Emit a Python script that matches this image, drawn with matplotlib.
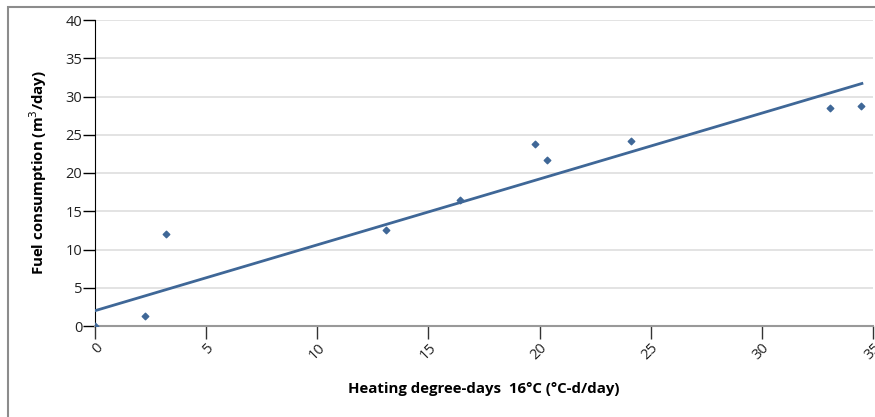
import matplotlib
matplotlib.use("Agg")
import matplotlib.pyplot as plt
from matplotlib.patches import Rectangle

# Данные
hdd = [0.0, 2.25, 3.2, 13.1, 16.4, 19.8, 20.35, 24.1, 33.05, 34.45]
fuel = [0.0, 1.3, 12.0, 12.5, 16.5, 23.8, 21.7, 24.2, 28.5, 28.8]

# Линия тренда (концы)
trend_x = [0.0, 34.5]
trend_y = [2.0, 31.7]

x_ticks = [0, 5, 10, 15, 20, 25, 30, 35]
y_ticks = [0, 5, 10, 15, 20, 25, 30, 35, 40]

plt.rcParams['font.family'] = ['Open Sans', 'DejaVu Sans']

blue = '#3f6797'

fig = plt.figure(figsize=(8.75, 4.17), dpi=100)
# серая рамка вокруг графика
fig.patches.append(Rectangle((8 / 875, -0.1), 1.2, (417 - 7) / 417 + 0.1,
                             transform=fig.transFigure, fill=False,
                             edgecolor='#8c8c8c', linewidth=1.5))

ax = fig.add_axes([95 / 875, 91 / 417, 778 / 875, 306 / 417])
ax.set_xlim(0, 35)
ax.set_ylim(0, 40)

ax.grid(axis='y', color='#dedede', linewidth=1.2)
ax.set_axisbelow(True)

ax.plot(trend_x, trend_y, color=blue, linewidth=2, zorder=3)
ax.scatter(hdd, fuel, marker='D', s=11, color=blue, zorder=4, clip_on=True)

for s in ['top', 'right']:
    ax.spines[s].set_visible(False)
ax.spines['left'].set_color('black')
ax.spines['bottom'].set_color('#999999')
ax.spines['bottom'].set_linewidth(1.5)

ax.set_xticks(x_ticks)
ax.set_yticks(y_ticks)
ax.tick_params(axis='y', length=9, width=1, color='black', labelsize=10.5, pad=0, labelcolor='#222222')
ax.tick_params(axis='x', length=9, width=1, color='#333333', labelsize=10.5, pad=1, labelcolor='#222222')
for lab in ax.get_xticklabels():
    lab.set_rotation(45)
    lab.set_ha('right')
    lab.set_va('top')
    lab.set_rotation_mode('anchor')

ax.set_xlabel('Heating degree-days  16°C (°C-d/day)', fontsize=10.8, fontweight='bold', labelpad=14)
ax.set_ylabel('Fuel consumption (m$^3$/day)', fontsize=10.8, fontweight='bold', labelpad=12)

fig.savefig('out.png', dpi=100)
